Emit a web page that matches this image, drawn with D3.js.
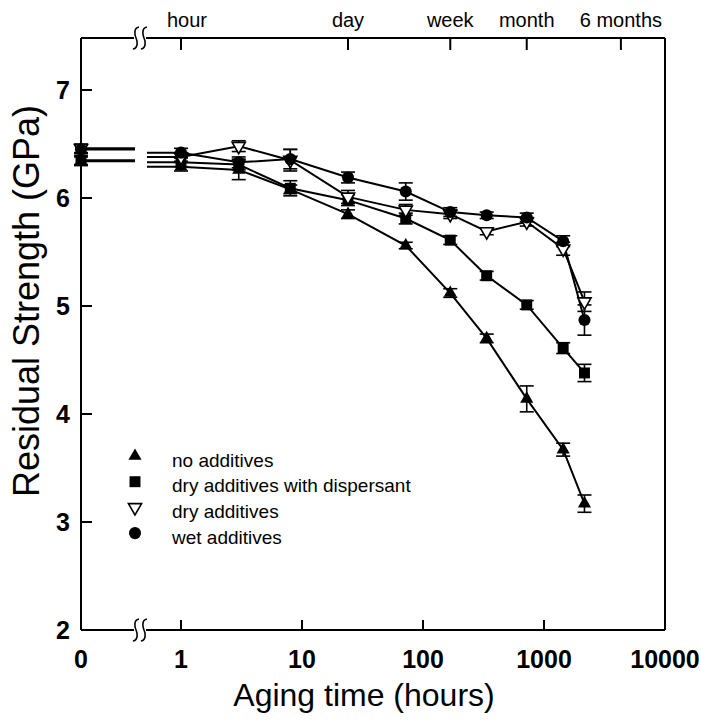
<!DOCTYPE html>
<html>
<head>
<meta charset="utf-8">
<script src="https://cdn.jsdelivr.net/npm/d3@7"></script>
<style>
    body { margin: 0; background: #fff; }
    svg text { font-family: Arial, "Liberation Sans", sans-serif; fill: #000; }
</style>
</head>
<body>
<div id="graph_area"></div>
<script>
// aging time in hours (0 = unaged, drawn left of the axis break)
var times = [0, 1, 3, 8, 24, 72, 168, 336, 720, 1440, 2160];

// residual strength (GPa) and error bar half widths, one array per series
var noAdditives     = [6.34, 6.29, 6.26, 6.08, 5.85, 5.56, 5.12, 4.70, 4.14, 3.67, 3.17];
var noAdditivesErr  = [0.04, 0.04, 0.09, 0.04, 0.04, 0.03, 0.04, 0.04, 0.12, 0.06, 0.08];
var withDispersant    = [6.35, 6.33, 6.31, 6.09, 5.98, 5.81, 5.61, 5.28, 5.01, 4.61, 4.38];
var withDispersantErr = [0.04, 0.04, 0.05, 0.07, 0.05, 0.05, 0.04, 0.04, 0.04, 0.05, 0.08];
var dryAdditives    = [6.46, 6.38, 6.48, 6.35, 6.01, 5.89, 5.85, 5.69, 5.78, 5.53, 5.04];
var dryAdditivesErr = [0.04, 0.04, 0.05, 0.10, 0.06, 0.05, 0.04, 0.03, 0.04, 0.06, 0.09];
var wetAdditives    = [6.45, 6.42, 6.33, 6.36, 6.19, 6.06, 5.87, 5.84, 5.82, 5.60, 4.87];
var wetAdditivesErr = [0.04, 0.04, 0.05, 0.09, 0.05, 0.08, 0.04, 0.03, 0.04, 0.05, 0.14];

var seriesNames = ['no additives', 'dry additives with dispersant', 'dry additives', 'wet additives'];
var seriesMarks = ['triangle', 'square', 'triangleDown', 'circle'];

// tick labels
var xTicks = [1, 10, 100, 1000, 10000];
var yTicks = [2, 3, 4, 5, 6, 7];
var topTicks = [1, 24, 168, 720, 4320];
var topLabels = ['hour', 'day', 'week', 'month', '6 months'];

var xTitle = 'Aging time (hours)';
var yTitle = 'Residual Strength (GPa)';

function draw() {
    var w = 701, h = 722;
    var left = 81, right = 665, top = 38, bottom = 630;

    var svg = d3.select('#graph_area').append('svg')
        .attr('width', w)
        .attr('height', h);

    // log scale for aged samples, 0 sits on the left axis
    var x = d3.scaleLog().domain([1, 10000]).range([181, right]);
    var y = d3.scaleLinear().domain([2, 7]).range([bottom, 90]);
    var breakX = x(1) - 41;

    function xPos(t) {
        return t === 0 ? left : x(t);
    }

    var series = [
        {name: seriesNames[0], mark: seriesMarks[0], vals: noAdditives, err: noAdditivesErr},
        {name: seriesNames[1], mark: seriesMarks[1], vals: withDispersant, err: withDispersantErr},
        {name: seriesNames[2], mark: seriesMarks[2], vals: dryAdditives, err: dryAdditivesErr},
        {name: seriesNames[3], mark: seriesMarks[3], vals: wetAdditives, err: wetAdditivesErr}
    ];

    var frame = svg.append('g')
        .attr('stroke', '#000')
        .attr('stroke-width', 2)
        .attr('fill', 'none');

    // left and right axes
    frame.append('line').attr('x1', left).attr('x2', left).attr('y1', top).attr('y2', bottom);
    frame.append('line').attr('x1', right).attr('x2', right).attr('y1', top).attr('y2', bottom);

    // top and bottom axes, split at the break
    [top, bottom].forEach(function(yy) {
        frame.append('line').attr('x1', left).attr('x2', breakX - 6).attr('y1', yy).attr('y2', yy);
        frame.append('line').attr('x1', breakX + 6).attr('x2', right).attr('y1', yy).attr('y2', yy);
        [-4, 4].forEach(function(off) {
            var bx = breakX + off;
            frame.append('path')
                .attr('stroke-width', 1.6)
                .attr('d', 'M' + (bx + 3) + ',' + (yy - 11) +
                    ' C' + (bx - 3) + ',' + (yy - 10) + ' ' + (bx - 1) + ',' + (yy - 2) + ' ' + bx + ',' + yy +
                    ' C' + (bx + 1) + ',' + (yy + 2) + ' ' + (bx + 3) + ',' + (yy + 10) + ' ' + (bx - 3) + ',' + (yy + 11));
        });
    });

    // bottom ticks
    frame.selectAll('.xtick')
        .data(xTicks.slice(0, 4))
        .enter().append('line')
            .attr('x1', function(d) { return x(d); })
            .attr('x2', function(d) { return x(d); })
            .attr('y1', bottom)
            .attr('y2', bottom - 10);

    // top ticks
    frame.selectAll('.ttick')
        .data(topTicks)
        .enter().append('line')
            .attr('x1', function(d) { return x(d); })
            .attr('x2', function(d) { return x(d); })
            .attr('y1', top)
            .attr('y2', top + 12);

    // y ticks
    frame.selectAll('.ytick')
        .data(yTicks.slice(1))
        .enter().append('line')
            .attr('x1', left)
            .attr('x2', left + 11)
            .attr('y1', function(d) { return y(d); })
            .attr('y2', function(d) { return y(d); });

    // tick labels
    var xlab = ['0'].concat(xTicks.map(String));
    var xlabPos = [left].concat(xTicks.map(function(d) { return x(d); }));
    svg.selectAll('.xlab')
        .data(xlab)
        .enter().append('text')
            .attr('x', function(d, i) { return xlabPos[i]; })
            .attr('y', 668)
            .attr('text-anchor', 'middle')
            .style('font-size', '25px')
            .style('font-weight', 'bold')
            .text(function(d) { return d; });

    svg.selectAll('.ylab')
        .data(yTicks)
        .enter().append('text')
            .attr('x', 70)
            .attr('y', function(d) { return y(d); })
            .attr('dy', '0.36em')
            .attr('text-anchor', 'end')
            .style('font-size', '25px')
            .style('font-weight', 'bold')
            .text(function(d) { return d; });

    svg.selectAll('.toplab')
        .data(topLabels)
        .enter().append('text')
            .attr('x', function(d, i) { return x(topTicks[i]); })
            .attr('y', 27)
            .attr('text-anchor', 'middle')
            .attr('dx', function(d, i) { return i === 0 ? 6 : 0; })
            .style('font-size', '20px')
            .text(function(d) { return d; });

    // axis titles
    svg.append('text')
        .attr('x', 364)
        .attr('y', 706)
        .attr('text-anchor', 'middle')
        .style('font-size', '32px')
        .text(xTitle);

    svg.append('text')
        .attr('transform', 'translate(39,301) rotate(-90)')
        .attr('text-anchor', 'middle')
        .style('font-size', '36px')
        .text(yTitle);

    // lines: flat stubs either side of the break, then the log part
    var line = d3.line()
        .x(function(d) { return d[0]; })
        .y(function(d) { return d[1]; });

    var plot = svg.append('g');

    series.forEach(function(s) {
        var v = s.vals;
        plot.append('path')
            .attr('d', line([[xPos(0), y(v[0])], [breakX - 5, y(v[0])]]))
            .attr('stroke', '#000').attr('stroke-width', 2).attr('fill', 'none');
        plot.append('path')
            .attr('d', line([[breakX + 7, y(v[1])], [x(1), y(v[1])]]))
            .attr('stroke', '#000').attr('stroke-width', 2).attr('fill', 'none');
        var pts = times.slice(1).map(function(t, i) { return [x(t), y(v[i + 1])]; });
        plot.append('path')
            .attr('d', line(pts))
            .attr('stroke', '#000').attr('stroke-width', 2).attr('fill', 'none');
    });

    // error bars
    series.forEach(function(s) {
        var g = plot.append('g').attr('stroke', '#000').attr('stroke-width', 1.6);
        times.forEach(function(t, i) {
            var cx = xPos(t);
            var lo = y(s.vals[i] - s.err[i]), hi = y(s.vals[i] + s.err[i]);
            g.append('line').attr('x1', cx).attr('x2', cx).attr('y1', lo).attr('y2', hi);
            g.append('line').attr('x1', cx - 7).attr('x2', cx + 7).attr('y1', lo).attr('y2', lo);
            g.append('line').attr('x1', cx - 7).attr('x2', cx + 7).attr('y1', hi).attr('y2', hi);
        });
    });

    // markers
    series.forEach(function(s) {
        times.forEach(function(t, i) {
            drawMark(plot, s.mark, xPos(t), y(s.vals[i]));
        });
    });

    // legend
    var legend = svg.append('g');
    series.forEach(function(s, i) {
        var ly = 456 + i * 25.7;
        drawMark(legend, s.mark, 135, ly);
        legend.append('text')
            .attr('x', 172)
            .attr('y', ly + 4)
            .attr('dy', '0.35em')
            .style('font-size', '19px')
            .text(s.name);
    });
}

function drawMark(g, mark, cx, cy) {
    var sym;
    if(mark === 'triangle' || mark === 'triangleDown') {
        sym = d3.symbol().type(d3.symbolTriangle).size(75);
    }
    else if(mark === 'square') {
        sym = d3.symbol().type(d3.symbolSquare).size(120);
    }
    else {
        sym = d3.symbol().type(d3.symbolCircle).size(115);
    }
    var p = g.append('path')
        .attr('d', sym())
        .attr('transform', 'translate(' + cx + ',' + cy + ')' + (mark === 'triangleDown' ? ' rotate(180)' : ''));
    if(mark === 'triangleDown') {
        p.attr('fill', '#fff').attr('stroke', '#000').attr('stroke-width', 1.6);
    }
    else {
        p.attr('fill', '#000');
    }
}

window.onload = draw;
</script>
</body>
</html>
